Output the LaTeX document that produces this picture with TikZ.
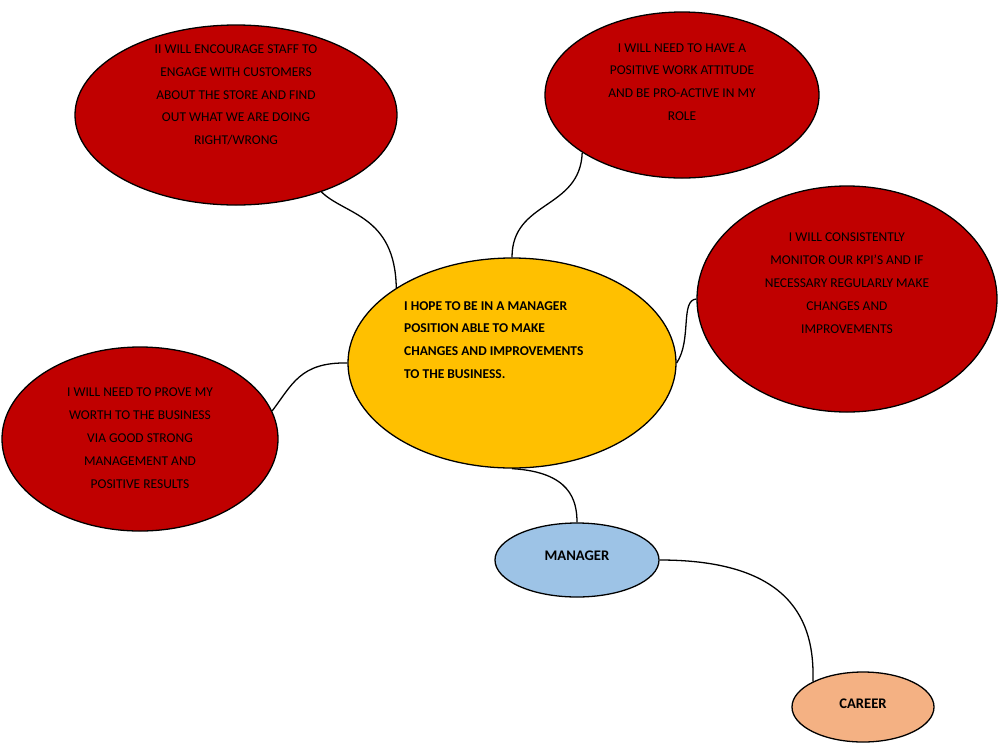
\documentclass[tikz,border=0pt]{standalone}
\usepackage{fontspec}
\setmainfont{Carlito}
\usetikzlibrary{shapes.geometric}
\definecolor{ideared}{RGB}{192, 0, 0}
\definecolor{hubyellow}{RGB}{255, 192, 0}
\definecolor{roleblue}{RGB}{157, 195, 230}
\definecolor{careerorange}{RGB}{244, 177, 131}
\tikzset{
    bubble/.style={ellipse, draw=black, line width=1.1pt, align=center,
        font=\fontsize{11.5}{19.5}\selectfont, inner sep=0pt},
    idea/.style={bubble, fill=ideared},
    link/.style={draw=black, line width=1.1pt},
}
\begin{document}
\begin{tikzpicture}[x=0.03cm, y=-0.03cm]
        \useasboundingbox (0, 0) rectangle (1000, 745);
        \node[idea, minimum width=9.66cm, minimum height=5.4cm] (encourage)
            at (236, 115) {};
        \node[align=center, font=\fontsize{11.5}{19.5}\selectfont] at (236, 95)
            {II WILL ENCOURAGE STAFF TO\\ENGAGE WITH CUSTOMERS\\ABOUT THE
            STORE AND FIND\\OUT WHAT WE ARE DOING\\RIGHT/WRONG};
        \node[idea, minimum width=8.22cm, minimum height=4.98cm] (attitude)
            at (682, 95) {};
        \node[align=center, font=\fontsize{11.5}{19.5}\selectfont] at (682, 82)
            {I WILL NEED TO HAVE A\\POSITIVE WORK ATTITUDE\\AND BE PRO-ACTIVE
            IN MY\\ROLE};
        \node[idea, minimum width=9cm, minimum height=6.78cm] (monitor)
            at (847, 299) {};
        \node[align=center, font=\fontsize{11.5}{19.5}\selectfont] at (847, 283)
            {I WILL CONSISTENTLY\\MONITOR OUR KPI’S AND IF\\NECESSARY REGULARLY
            MAKE\\CHANGES AND\\IMPROVEMENTS};
        \node[idea, minimum width=8.28cm, minimum height=5.52cm] (prove)
            at (140, 439) {};
        \node[align=center, font=\fontsize{11.5}{19.5}\selectfont] at (140, 438)
            {I WILL NEED TO PROVE MY\\WORTH TO THE BUSINESS\\VIA GOOD STRONG\\
            MANAGEMENT AND\\POSITIVE RESULTS};
        \node[bubble, fill=hubyellow, minimum width=9.84cm, minimum height=6.3cm]
            (hope) at (512, 363) {};
        \node[align=left, font=\bfseries\fontsize{11.5}{19.5}\selectfont,
            anchor=west] at (400, 340) {I HOPE TO BE IN A MANAGER\\POSITION
            ABLE TO MAKE\\CHANGES AND IMPROVEMENTS\\TO THE BUSINESS.};
        \node[bubble, fill=roleblue, minimum width=4.92cm, minimum height=2.22cm,
            font=\bfseries\fontsize{12.5}{15}\selectfont] (manager) at (577, 560)
            {\raisebox{8pt}{MANAGER}};
        \node[bubble, fill=careerorange, minimum width=4.26cm,
            minimum height=2.1cm, font=\bfseries\fontsize{12.5}{15}\selectfont]
            (career) at (863, 707) {\raisebox{6pt}{CAREER}};

        % connectors
        \draw[link] (hope.147) .. controls (395, 215) and (345, 215) ..
            (encourage.318);
        \draw[link] (hope.north) .. controls (512, 200) and (580, 210) ..
            (attitude.210);
        \draw[link] (hope.east) .. controls (692, 340) and (680, 300) ..
            (monitor.west);
        \draw[link] (hope.west) .. controls (300, 362) and (292, 385) ..
            (prove.12);
        \draw[link] (hope.south) .. controls (570, 472) and (577, 500) ..
            (manager.north);
        \draw[link] (manager.east) .. controls (790, 560) and (815, 620) ..
            (career.153);
    \end{tikzpicture}
\end{document}
